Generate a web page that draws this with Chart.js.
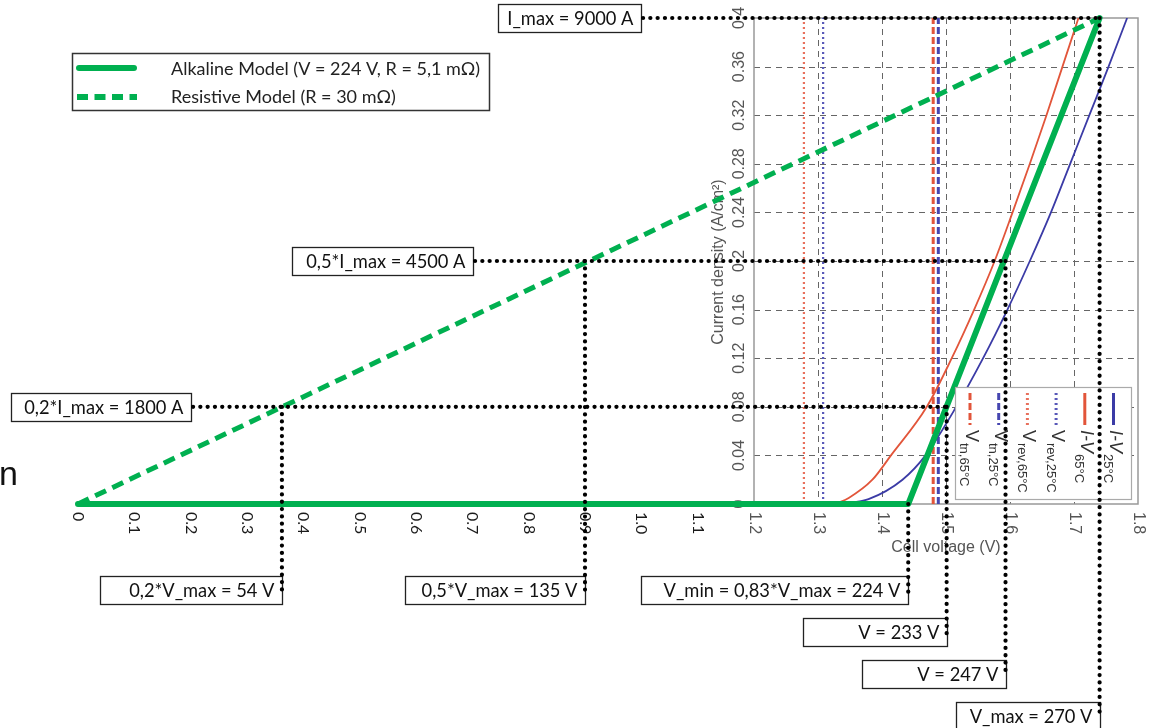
<!DOCTYPE html>
<html>
<head>
<meta charset="utf-8">
<script src="https://cdn.jsdelivr.net/npm/chart.js@4/dist/chart.umd.min.js"></script>
<style>
  html, body { margin: 0; padding: 0; background: #fff; }
</style>
</head>
<body>
<canvas id="c" width="1153" height="728"></canvas>
<script>
// values (cell voltage in V, current density in A/cm2)
var alkalineV = [0, 1.441, 1.74];
var alkalineJ = [0, 0, 0.4];
var resistiveV = [0, 1.74];
var resistiveJ = [0, 0.4];

var iv65V = [1.327, 1.348, 1.385, 1.414, 1.47, 1.509, 1.544, 1.576, 1.604, 1.631, 1.657, 1.682, 1.707];
var iv65J = [0, 0.005, 0.02, 0.04, 0.08, 0.12, 0.16, 0.2, 0.24, 0.28, 0.32, 0.36, 0.4];
var iv25V = [1.337, 1.379, 1.432, 1.468, 1.516, 1.558, 1.596, 1.631, 1.664, 1.694, 1.724, 1.754, 1.783];
var iv25J = [0, 0.004, 0.02, 0.04, 0.08, 0.12, 0.16, 0.2, 0.24, 0.28, 0.32, 0.36, 0.4];

var vRev65 = 1.278, vRev25 = 1.308, vTn65 = 1.48, vTn25 = 1.488;

var xTickValues = [0, 0.1, 0.2, 0.3, 0.4, 0.5, 0.6, 0.7, 0.8, 0.9, 1.0, 1.1, 1.2, 1.3, 1.4, 1.5, 1.6, 1.7, 1.8];
var xTickLabels = ['0', '0.1', '0.2', '0.3', '0.4', '0.5', '0.6', '0.7', '0.8', '0.9', '1.0', '1.1', '1.2', '1.3', '1.4', '1.5', '1.6', '1.7', '1.8'];
var yTickValues = [0, 0.04, 0.08, 0.12, 0.16, 0.2, 0.24, 0.28, 0.32, 0.36, 0.4];
var yTickLabels = ['0', '0.04', '0.08', '0.12', '0.16', '0.2', '0.24', '0.28', '0.32', '0.36', '0.4'];

// marked operating points
var markCurrent = [0.4, 0.2, 0.08];
var markCurrentEndV = [1.74, 1.593, 1.501];
var markCurrentLabels = ['I_max = 9000 A', '0,5*I_max = 4500 A', '0,2*I_max = 1800 A'];
var markVoltage = [0.362, 0.9, 1.441, 1.501, 1.593, 1.74];
var markVoltageFromJ = [0.08, 0.2, 0, 0.08, 0.2, 0.4];
var markVoltageLabels = ['0,2*V_max = 54 V', '0,5*V_max = 135 V', 'V_min = 0,83*V_max = 224 V', 'V = 233 V', 'V = 247 V', 'V_max = 270 V'];

var insetLegendMain = ['V', 'V', 'V', 'V', 'I-V', 'I-V'];
var insetLegendSub = ['tn,65°C', 'tn,25°C', 'rev,65°C', 'rev,25°C', '65°C', '25°C'];

// box layout for the labels (left edge / width / top)
var currentBoxes = [{x: 498, w: 143}, {x: 292, w: 181}, {x: 11, w: 180}];
var voltageBoxes = [{w: 182, y: 576}, {w: 180, y: 576}, {w: 267, y: 576}, {w: 144, y: 618}, {w: 144, y: 660}, {w: 144, y: 702}];

var green = '#00B050', red = '#E2553A', blue = '#3B3BA6';
var calibriLike = '"Lato", "Open Sans", sans-serif';
var arialLike = '"Liberation Sans", Arial, sans-serif';

function pts(xs, ys) {
  return xs.map(function (v, i) { return {x: v, y: ys[i]}; });
}

// x axis of the figure is stretched differently left and right of 1.2 V
var SPLIT_AT = 1.2, SPLIT_FRAC = 676 / 1060;
class SplitScale extends Chart.LinearScale {
  static id = 'split';
  static defaults = {};
  getPixelForValue(value) {
    if (value === null || isNaN(value)) return NaN;
    var d = value <= SPLIT_AT ? value / SPLIT_AT * SPLIT_FRAC
      : SPLIT_FRAC + (value - SPLIT_AT) / (this.max - SPLIT_AT) * (1 - SPLIT_FRAC);
    return this.getPixelForDecimal(d);
  }
  getValueForPixel(pixel) {
    var d = this.getDecimalForPixel(pixel);
    return d <= SPLIT_FRAC ? d / SPLIT_FRAC * SPLIT_AT
      : SPLIT_AT + (d - SPLIT_FRAC) / (1 - SPLIT_FRAC) * (this.max - SPLIT_AT);
  }
}
Chart.register(SplitScale);

var dsAlk = {label: 'Alkaline Model (V = 224 V, R = 5,1 mΩ)', data: pts(alkalineV, alkalineJ), borderColor: green, borderWidth: 6, borderCapStyle: 'round', borderJoinStyle: 'round', clip: false};
var dsRes = {label: 'Resistive Model (R = 30 mΩ)', data: pts(resistiveV, resistiveJ), borderColor: green, borderWidth: 5, borderDash: [12, 7], clip: false};
var dsIv25 = {label: 'I-V 25°C', data: pts(iv25V, iv25J), borderColor: blue, borderWidth: 1.8, cubicInterpolationMode: 'monotone'};
var dsIv65 = {label: 'I-V 65°C', data: pts(iv65V, iv65J), borderColor: red, borderWidth: 1.8, cubicInterpolationMode: 'monotone'};
var dsRev25 = {label: 'V rev,25°C', data: pts([vRev25, vRev25], [0, 0.4]), borderColor: '#5858B8', borderWidth: 2.2, borderDash: [2, 3]};
var dsRev65 = {label: 'V rev,65°C', data: pts([vRev65, vRev65], [0, 0.4]), borderColor: '#E8705C', borderWidth: 2.2, borderDash: [2, 3]};
var dsTn25 = {label: 'V tn,25°C', data: pts([vTn25, vTn25], [0, 0.4]), borderColor: '#4646B0', borderWidth: 3, borderDash: [7, 3]};
var dsTn65 = {label: 'V tn,65°C', data: pts([vTn65, vTn65], [0, 0.4]), borderColor: '#E2553A', borderWidth: 3, borderDash: [7, 3]};
var insetLegendSets = [dsTn65, dsTn25, dsRev65, dsRev25, dsIv65, dsIv25];

function line(ctx, x0, y0, x1, y1) {
  ctx.beginPath(); ctx.moveTo(x0, y0); ctx.lineTo(x1, y1); ctx.stroke();
}

var insetFrame = {
  id: 'insetFrame',
  beforeDatasetsDraw: function (chart) {
    var ctx = chart.ctx, xs = chart.scales.x, ys = chart.scales.y;
    var left = xs.getPixelForValue(1.2), right = xs.getPixelForValue(1.8);
    var bottom = ys.getPixelForValue(0), top = ys.getPixelForValue(0.4);
    ctx.save();
    ctx.strokeStyle = '#666'; ctx.lineWidth = 1; ctx.setLineDash([6, 5]);
    xTickValues.forEach(function (v) {
      if (v > 1.2 && v < 1.8) { var p = Math.round(xs.getPixelForValue(v)) + 0.5; line(ctx, p, top, p, bottom); }
    });
    yTickValues.forEach(function (v) {
      if (v > 0 && v < 0.4) { var p = Math.round(ys.getPixelForValue(v)) + 0.5; line(ctx, left, p, right, p); }
    });
    ctx.setLineDash([]);
    ctx.strokeStyle = '#999'; ctx.lineWidth = 1.5;
    ctx.strokeRect(left, top, right - left, bottom - top);

    // x tick labels, turned clockwise
    ctx.textAlign = 'left'; ctx.textBaseline = 'middle';
    xTickValues.forEach(function (v, i) {
      ctx.save();
      ctx.translate(xs.getPixelForValue(v), 512);
      ctx.rotate(Math.PI / 2);
      if (v < 1.2) { ctx.font = '16px ' + calibriLike; ctx.fillStyle = '#1a1a1a'; }
      else { ctx.font = '16px ' + arialLike; ctx.fillStyle = '#555'; }
      ctx.fillText(xTickLabels[i], 0, 0);
      ctx.restore();
    });
    // y tick labels of the inset, turned anticlockwise
    ctx.textAlign = 'center';
    ctx.font = '16px ' + arialLike; ctx.fillStyle = '#555';
    yTickValues.forEach(function (v, i) {
      ctx.save();
      ctx.translate(left - 14, ys.getPixelForValue(v));
      ctx.rotate(-Math.PI / 2);
      ctx.fillText(yTickLabels[i], 0, 0);
      ctx.restore();
    });
    ctx.font = '16px ' + arialLike;
    ctx.fillText('Cell voltage (V)', 946, 548);
    ctx.save();
    ctx.translate(719, 262);
    ctx.rotate(-Math.PI / 2);
    ctx.fillText('Current density (A/cm²)', 0, 0);
    ctx.restore();
    ctx.restore();
  }
};

var notes = {
  id: 'notes',
  afterDatasetsDraw: function (chart) {
    var ctx = chart.ctx, xs = chart.scales.x, ys = chart.scales.y;
    ctx.save();

    // inset legend
    ctx.fillStyle = '#fff'; ctx.strokeStyle = '#aaa'; ctx.lineWidth = 1.2;
    ctx.fillRect(955.5, 387.5, 176, 112);
    ctx.strokeRect(955.5, 387.5, 176, 112);
    insetLegendSets.forEach(function (ds, i) {
      var cx = 970 + i * 28.7;
      ctx.strokeStyle = ds.borderColor; ctx.lineWidth = 3;
      ctx.setLineDash(ds.borderDash || []);
      line(ctx, cx, 393, cx, 425);
      ctx.setLineDash([]);
      ctx.save();
      ctx.translate(cx + 1, 430);
      ctx.rotate(Math.PI / 2);
      ctx.fillStyle = '#333'; ctx.textAlign = 'left'; ctx.textBaseline = 'middle';
      ctx.font = (i > 3 ? 'italic ' : '') + '18px ' + arialLike;
      ctx.fillText(insetLegendMain[i], 0, 0);
      var w = ctx.measureText(insetLegendMain[i]).width;
      ctx.font = '13px ' + arialLike;
      ctx.fillText(insetLegendSub[i], w + 1, 7);
      ctx.restore();
    });

    // label boxes
    ctx.font = '20px ' + calibriLike;
    var size = 20 * 237 / ctx.measureText(markVoltageLabels[2]).width;
    ctx.font = size.toFixed(1) + 'px ' + calibriLike;
    ctx.textAlign = 'right'; ctx.textBaseline = 'middle';
    function box(x, y, w, h, text) {
      ctx.fillStyle = '#fff'; ctx.fillRect(x, y, w, h);
      ctx.strokeStyle = '#222'; ctx.lineWidth = 1.3; ctx.strokeRect(x, y, w, h);
      ctx.fillStyle = '#111'; ctx.fillText(text, x + w - 8, y + h / 2 + 1);
    }
    var dotLines = [];
    markCurrent.forEach(function (j, i) {
      var py = ys.getPixelForValue(j), b = currentBoxes[i];
      box(b.x + 0.5, Math.round(py - 14) + 0.5, b.w, 28, markCurrentLabels[i]);
      dotLines.push([b.x + b.w + 2, py, xs.getPixelForValue(markCurrentEndV[i]), py]);
    });
    markVoltage.forEach(function (v, i) {
      var px = xs.getPixelForValue(v), b = voltageBoxes[i];
      box(Math.round(px - b.w) + 0.5, b.y + 0.5, b.w, 28, markVoltageLabels[i]);
      dotLines.push([px, ys.getPixelForValue(markVoltageFromJ[i]), px, b.y + 16]);
    });
    ctx.strokeStyle = '#000'; ctx.lineWidth = 4.2; ctx.lineCap = 'round';
    ctx.setLineDash([0.1, 7.2]);
    dotLines.forEach(function (l) { line(ctx, l[0], l[1], l[2], l[3]); });
    ctx.setLineDash([]); ctx.lineCap = 'butt';

    // main legend
    ctx.fillStyle = '#fff'; ctx.strokeStyle = '#333'; ctx.lineWidth = 1.5;
    ctx.fillRect(72.5, 53.5, 417, 57);
    ctx.strokeRect(72.5, 53.5, 417, 57);
    ctx.strokeStyle = green;
    ctx.lineWidth = 6; ctx.lineCap = 'round';
    line(ctx, 79, 68, 134, 68);
    ctx.lineCap = 'butt'; ctx.lineWidth = 6; ctx.setLineDash([11, 6.5]);
    line(ctx, 77, 97, 137, 97);
    ctx.setLineDash([]);
    ctx.font = '20px ' + calibriLike;
    var lsize = 20 * 310 / ctx.measureText(dsAlk.label).width;
    ctx.font = lsize.toFixed(1) + 'px ' + calibriLike;
    ctx.fillStyle = '#222'; ctx.textAlign = 'left';
    ctx.fillText(dsAlk.label, 171, 69);
    ctx.fillText(dsRes.label, 171, 97);

    ctx.font = '34px ' + arialLike; ctx.fillStyle = '#111'; ctx.textBaseline = 'alphabetic';
    ctx.fillText('n', -1, 485);
    ctx.restore();
  }
};

new Chart(document.getElementById('c'), {
  type: 'line',
  data: {datasets: [dsAlk, dsRes, dsIv25, dsIv65, dsRev25, dsRev65, dsTn25, dsTn65]},
  options: {
    responsive: false,
    animation: false,
    devicePixelRatio: 1,
    layout: {padding: {left: 78, right: 15, top: 18, bottom: 224}},
    elements: {point: {radius: 0}, line: {fill: false}},
    scales: {
      x: {type: 'split', min: 0, max: 1.8, display: false},
      y: {type: 'linear', min: 0, max: 0.4, display: false}
    },
    plugins: {legend: {display: false}, tooltip: {enabled: false}}
  },
  plugins: [insetFrame, notes]
});
</script>
</body>
</html>
